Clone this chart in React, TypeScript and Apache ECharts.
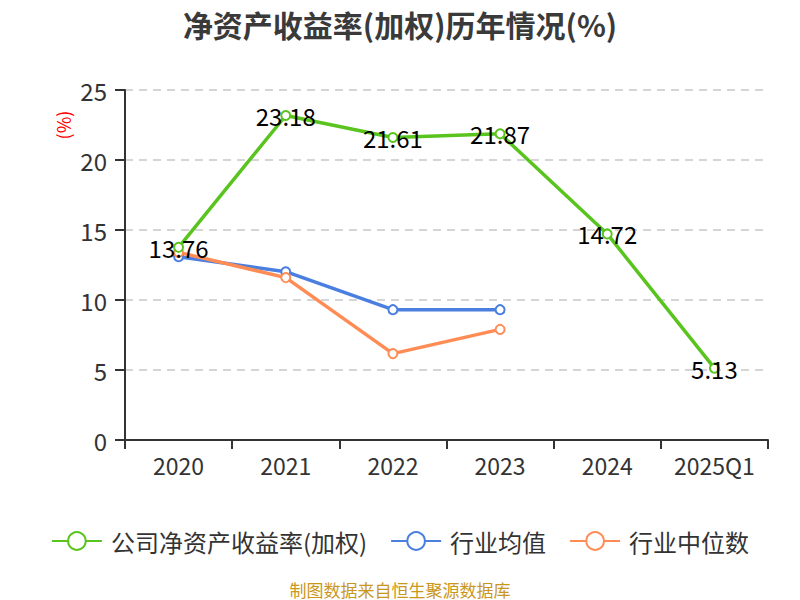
import React, { useEffect, useRef } from "react";
import * as echarts from "echarts";

const categories = ["2020", "2021", "2022", "2023", "2024", "2025Q1"];
const companyValues = [13.76, 23.18, 21.61, 21.87, 14.72, 5.13];
const industryAvg = [13.09, 12.02, 9.31, 9.31, null, null];
const industryMedian = [13.4, 11.6, 6.17, 7.9, null, null];
const yTicks = [0, 5, 10, 15, 20, 25];

export default function App() {
  const ref = useRef<HTMLDivElement>(null);
  useEffect(() => {
    const chart = echarts.init(ref.current!, null, { renderer: "svg" });
    const font = "'Noto Sans CJK SC', 'Noto Sans', sans-serif";
    chart.setOption({
      animation: false,
      textStyle: { fontFamily: font },
      title: {
        text: "净资产收益率(加权)历年情况(%)",
        left: "center",
        top: 4,
        textStyle: { fontSize: 30, fontWeight: "bold", color: "#3a3a3a", fontFamily: font },
      },
      grid: { left: 125, right: 32, top: 90, bottom: 160 },
      xAxis: {
        type: "category",
        data: categories,
        boundaryGap: true,
        axisLine: { lineStyle: { color: "#333", width: 2 } },
        axisTick: { show: true, interval: 0, length: 9, lineStyle: { color: "#333", width: 2 } },
        axisLabel: { fontSize: 23, color: "#333", margin: 13, interval: 0 },
      },
      yAxis: {
        type: "value",
        min: yTicks[0],
        max: yTicks[yTicks.length - 1],
        interval: 5,
        axisLine: { show: true, lineStyle: { color: "#333", width: 2 } },
        axisTick: { show: true, length: 10, lineStyle: { color: "#333", width: 2 } },
        axisLabel: { fontSize: 24, color: "#333", margin: 18 },
        splitLine: { lineStyle: { type: [8, 6], color: "#c8c8c8", width: 1.5 } },
      },
      legend: {
        top: 524,
        left: "center",
        itemWidth: 50,
        itemHeight: 22,
        itemGap: 23,
        textStyle: { fontSize: 24, color: "#333", padding: [0, 0, 0, 4] },
        data: ["公司净资产收益率(加权)", "行业均值", "行业中位数"],
      },
      graphic: [
        {
          type: "text",
          x: 63,
          y: 125,
          rotation: Math.PI / 2,
          style: {
            text: "(%)",
            fill: "#ff0000",
            fontSize: 18,
            fontFamily: font,
            textAlign: "center",
            textVerticalAlign: "middle",
          },
        },
        {
          type: "text",
          x: 400,
          y: 589,
          style: {
            text: "制图数据来自恒生聚源数据库",
            fill: "#c9971c",
            fontSize: 17,
            fontFamily: font,
            textAlign: "center",
            textVerticalAlign: "middle",
          },
        },
      ],
      series: [
        {
          name: "公司净资产收益率(加权)",
          type: "line",
          data: companyValues,
          symbol: "emptyCircle",
          symbolSize: 9,
          itemStyle: { color: "#5ac41e", borderColor: "#5ac41e", borderWidth: 2 },
          lineStyle: { width: 3.5, color: "#5ac41e" },
          label: { show: true, position: "inside", fontSize: 24, color: "#000" },
          z: 3,
        },
        {
          name: "行业均值",
          type: "line",
          data: industryAvg,
          symbol: "emptyCircle",
          symbolSize: 9,
          itemStyle: { color: "#4a7fe0", borderColor: "#4a7fe0", borderWidth: 2 },
          lineStyle: { width: 3.5, color: "#4a7fe0" },
          z: 2,
        },
        {
          name: "行业中位数",
          type: "line",
          data: industryMedian,
          symbol: "emptyCircle",
          symbolSize: 9,
          itemStyle: { color: "#ff8c55", borderColor: "#ff8c55", borderWidth: 2 },
          lineStyle: { width: 3.5, color: "#ff8c55" },
          z: 2,
        },
      ],
    });
    return () => chart.dispose();
  }, []);
  return (
    <div
      ref={ref}
      style={{ position: "absolute", left: 0, top: 0, width: 800, height: 600 }}
    />
  );
}
